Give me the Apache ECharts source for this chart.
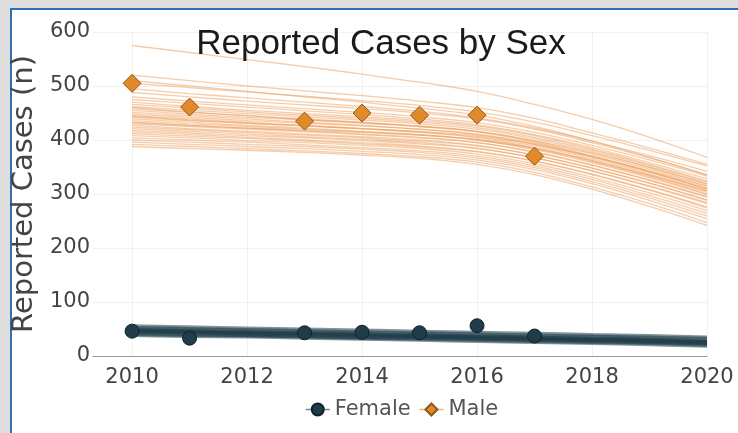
<!DOCTYPE html>
<html>
<head>
<meta charset="utf-8">
<script src="https://cdn.jsdelivr.net/npm/echarts@6/dist/echarts.min.js"></script>
<style>
  html, body { margin: 0; padding: 0; }
  body { width: 738px; height: 433px; background: #dedede; position: relative; overflow: hidden; }
  #panel { position: absolute; left: 10px; top: 8px; width: 740px; height: 440px;
           background: #ffffff; border-left: 2px solid #2f6fb3; border-top: 2px solid #2f6fb3; }
  #chart { position: absolute; left: 0; top: 0; width: 738px; height: 433px; }
</style>
</head>
<body>
<div id="panel"></div>
<div id="chart"></div>
<script>
// Years covered by the modelled trajectories
const years = [2010, 2011, 2012, 2013, 2014, 2015, 2016, 2017, 2018, 2019, 2020];
const xTicks = [2010, 2012, 2014, 2016, 2018, 2020];

// Observed counts
const obsYears = [2010, 2011, 2013, 2014, 2015, 2016, 2017];
const femaleObs = [46, 33, 43, 44, 43, 56, 37];
const maleObs = [505, 461, 435, 450, 446, 446, 370];

// Modelled trajectories for males (one row per draw, values for each year)
const maleDraws = [
  [575, 562, 549, 536, 522, 507, 490, 466, 438, 405, 368],
  [520, 510, 500, 491, 482, 472, 460, 440, 413, 385, 355],
  [510, 500, 490, 480, 470, 459, 446, 425, 398, 368, 335],
  [505, 497, 489, 481, 473, 464, 452, 433, 408, 381, 352],
  [495, 486, 478, 470, 462, 453, 441, 422, 398, 371, 342],
  [488, 480, 472, 465, 458, 450, 439, 420, 395, 367, 336],
  [480, 472, 465, 458, 451, 443, 432, 414, 390, 363, 333],
  [475, 468, 461, 454, 447, 439, 428, 410, 386, 358, 328],
  [470, 462, 455, 449, 443, 436, 426, 408, 383, 355, 324],
  [466, 459, 452, 446, 440, 433, 423, 405, 381, 353, 322],
  [462, 455, 449, 443, 437, 430, 420, 402, 378, 350, 319],
  [460, 452, 445, 438, 432, 425, 415, 396, 370, 341, 309],
  [458, 451, 445, 439, 433, 426, 416, 398, 374, 346, 315],
  [455, 448, 442, 437, 431, 425, 416, 399, 376, 349, 318],
  [451, 445, 439, 433, 427, 420, 410, 392, 368, 340, 309],
  [448, 442, 436, 431, 426, 420, 411, 394, 370, 342, 311],
  [445, 439, 433, 427, 421, 414, 404, 386, 362, 334, 303],
  [444, 437, 431, 426, 421, 416, 408, 392, 369, 343, 314],
  [442, 436, 431, 426, 421, 415, 406, 389, 365, 337, 306],
  [439, 433, 427, 422, 416, 410, 400, 382, 358, 330, 299],
  [436, 430, 425, 420, 415, 409, 400, 384, 360, 332, 300],
  [433, 427, 422, 417, 411, 405, 395, 377, 353, 325, 294],
  [432, 427, 422, 418, 414, 409, 401, 385, 362, 335, 306],
  [430, 425, 420, 415, 410, 404, 395, 378, 354, 326, 295],
  [427, 421, 416, 411, 406, 400, 390, 372, 348, 320, 289],
  [424, 419, 414, 409, 404, 398, 389, 372, 348, 320, 288],
  [421, 416, 411, 406, 401, 395, 385, 367, 343, 315, 284],
  [418, 413, 408, 404, 399, 393, 384, 367, 343, 314, 282],
  [415, 410, 405, 400, 395, 389, 379, 361, 337, 308, 276],
  [412, 407, 403, 398, 393, 387, 378, 361, 336, 307, 274],
  [408, 404, 399, 395, 390, 384, 374, 356, 331, 302, 269],
  [404, 400, 396, 391, 386, 380, 370, 352, 327, 297, 264],
  [400, 396, 392, 388, 383, 377, 367, 349, 323, 293, 259],
  [396, 392, 388, 384, 379, 373, 363, 345, 319, 288, 254],
  [392, 388, 384, 380, 375, 369, 359, 340, 313, 282, 247],
  [388, 384, 381, 377, 372, 366, 355, 336, 309, 277, 242]
];

// Modelled trajectories for females
const femaleDraws = [
  [56, 54, 52, 50, 48, 46, 44, 42, 40, 38, 35],
  [53, 51, 49, 47, 45, 43, 41, 39, 37, 35, 33],
  [51, 49, 47, 45, 43, 41, 39, 37, 35, 33, 30],
  [49, 47, 45, 43, 41, 39, 37, 35, 33, 31, 28],
  [48, 46, 44, 42, 40, 38, 36, 34, 32, 30, 26],
  [47, 45, 43, 41, 39, 37, 35, 33, 31, 29, 27],
  [46, 44, 42, 40, 38, 36, 34, 32, 30, 28, 25],
  [45, 43, 41, 39, 37, 35, 33, 31, 29, 27, 24],
  [44, 42, 40, 38, 36, 34, 32, 30, 28, 26, 23],
  [42, 40, 38, 36, 34, 33, 31, 29, 27, 25, 22],
  [40, 38, 37, 35, 33, 31, 29, 27, 25, 23, 20],
  [38, 36, 35, 33, 31, 29, 27, 25, 23, 21, 18]
];

const MALE = '#e2892b';
const FEMALE = '#1f3c48';
const FONT = 'DejaVu Sans';

const pair = (xs, ys) => xs.map((x, i) => [x, ys[i]]);

const series = [];
maleDraws.forEach((d, i) => series.push({
  name: 'male-draw-' + i, type: 'line', data: pair(years, d), smooth: 0.4,
  symbol: 'none', silent: true, z: 1,
  lineStyle: { width: 1.3, color: '#ee9c55', opacity: 0.5 }
}));
femaleDraws.forEach((d, i) => series.push({
  name: 'female-draw-' + i, type: 'line', data: pair(years, d), smooth: 0.4,
  symbol: 'none', silent: true, z: 1,
  lineStyle: { width: 3, color: '#1f3c48', opacity: 0.55 }
}));
series.push({
  name: 'Female', type: 'line', data: pair(obsYears, femaleObs), z: 5,
  symbol: 'circle', symbolSize: 14,
  itemStyle: { color: FEMALE, borderColor: '#0e222b', borderWidth: 1 },
  lineStyle: { opacity: 0 }
});
series.push({
  name: 'Male', type: 'line', data: pair(obsYears, maleObs), z: 5,
  symbol: 'diamond', symbolSize: 18,
  itemStyle: { color: MALE, borderColor: '#8f5a1e', borderWidth: 1 },
  lineStyle: { opacity: 0 }
});

const chart = echarts.init(document.getElementById('chart'), null, { renderer: 'canvas' });
chart.setOption({
  animation: false,
  backgroundColor: 'transparent',
  title: {
    text: 'Reported Cases by Sex', left: 376, top: 22, textAlign: 'center',
    textStyle: { fontFamily: 'Liberation Sans', fontSize: 35, fontWeight: 'normal', color: '#1a1a1a' }
  },
  legend: {
    bottom: 8, left: 300, itemWidth: 24, itemHeight: 15, itemGap: 8,
    textStyle: { fontFamily: FONT, fontSize: 21, color: '#555' },
    data: [
      { name: 'Female', lineStyle: { color: '#6d8a96', width: 1.5, opacity: 1 } },
      { name: 'Male', lineStyle: { color: '#f0b070', width: 1.5, opacity: 1 } }
    ]
  },
  grid: { left: 93, right: 31, top: 32, bottom: 77 },
  xAxis: {
    type: 'value', min: 2009.32, max: 2020,
    axisLine: { show: true, lineStyle: { color: '#999', width: 1 } },
    axisTick: { show: false, customValues: xTicks },
    axisLabel: { customValues: xTicks, formatter: v => String(v), fontFamily: FONT, fontSize: 21, color: '#444', margin: 11 },
    splitLine: { show: true, lineStyle: { color: '#f1f1f1', width: 1 } }
  },
  yAxis: {
    type: 'value', min: 0, max: 600, interval: 100,
    name: 'Reported Cases (n)', nameLocation: 'middle', nameGap: 47,
    nameTextStyle: { fontFamily: FONT, fontSize: 29, color: '#444' },
    axisLine: { show: false }, axisTick: { show: false },
    axisLabel: { fontFamily: FONT, fontSize: 21, color: '#444', margin: 3 },
    splitLine: { show: true, lineStyle: { color: '#f1f1f1', width: 1 } }
  },
  series: series
});
</script>
</body>
</html>
